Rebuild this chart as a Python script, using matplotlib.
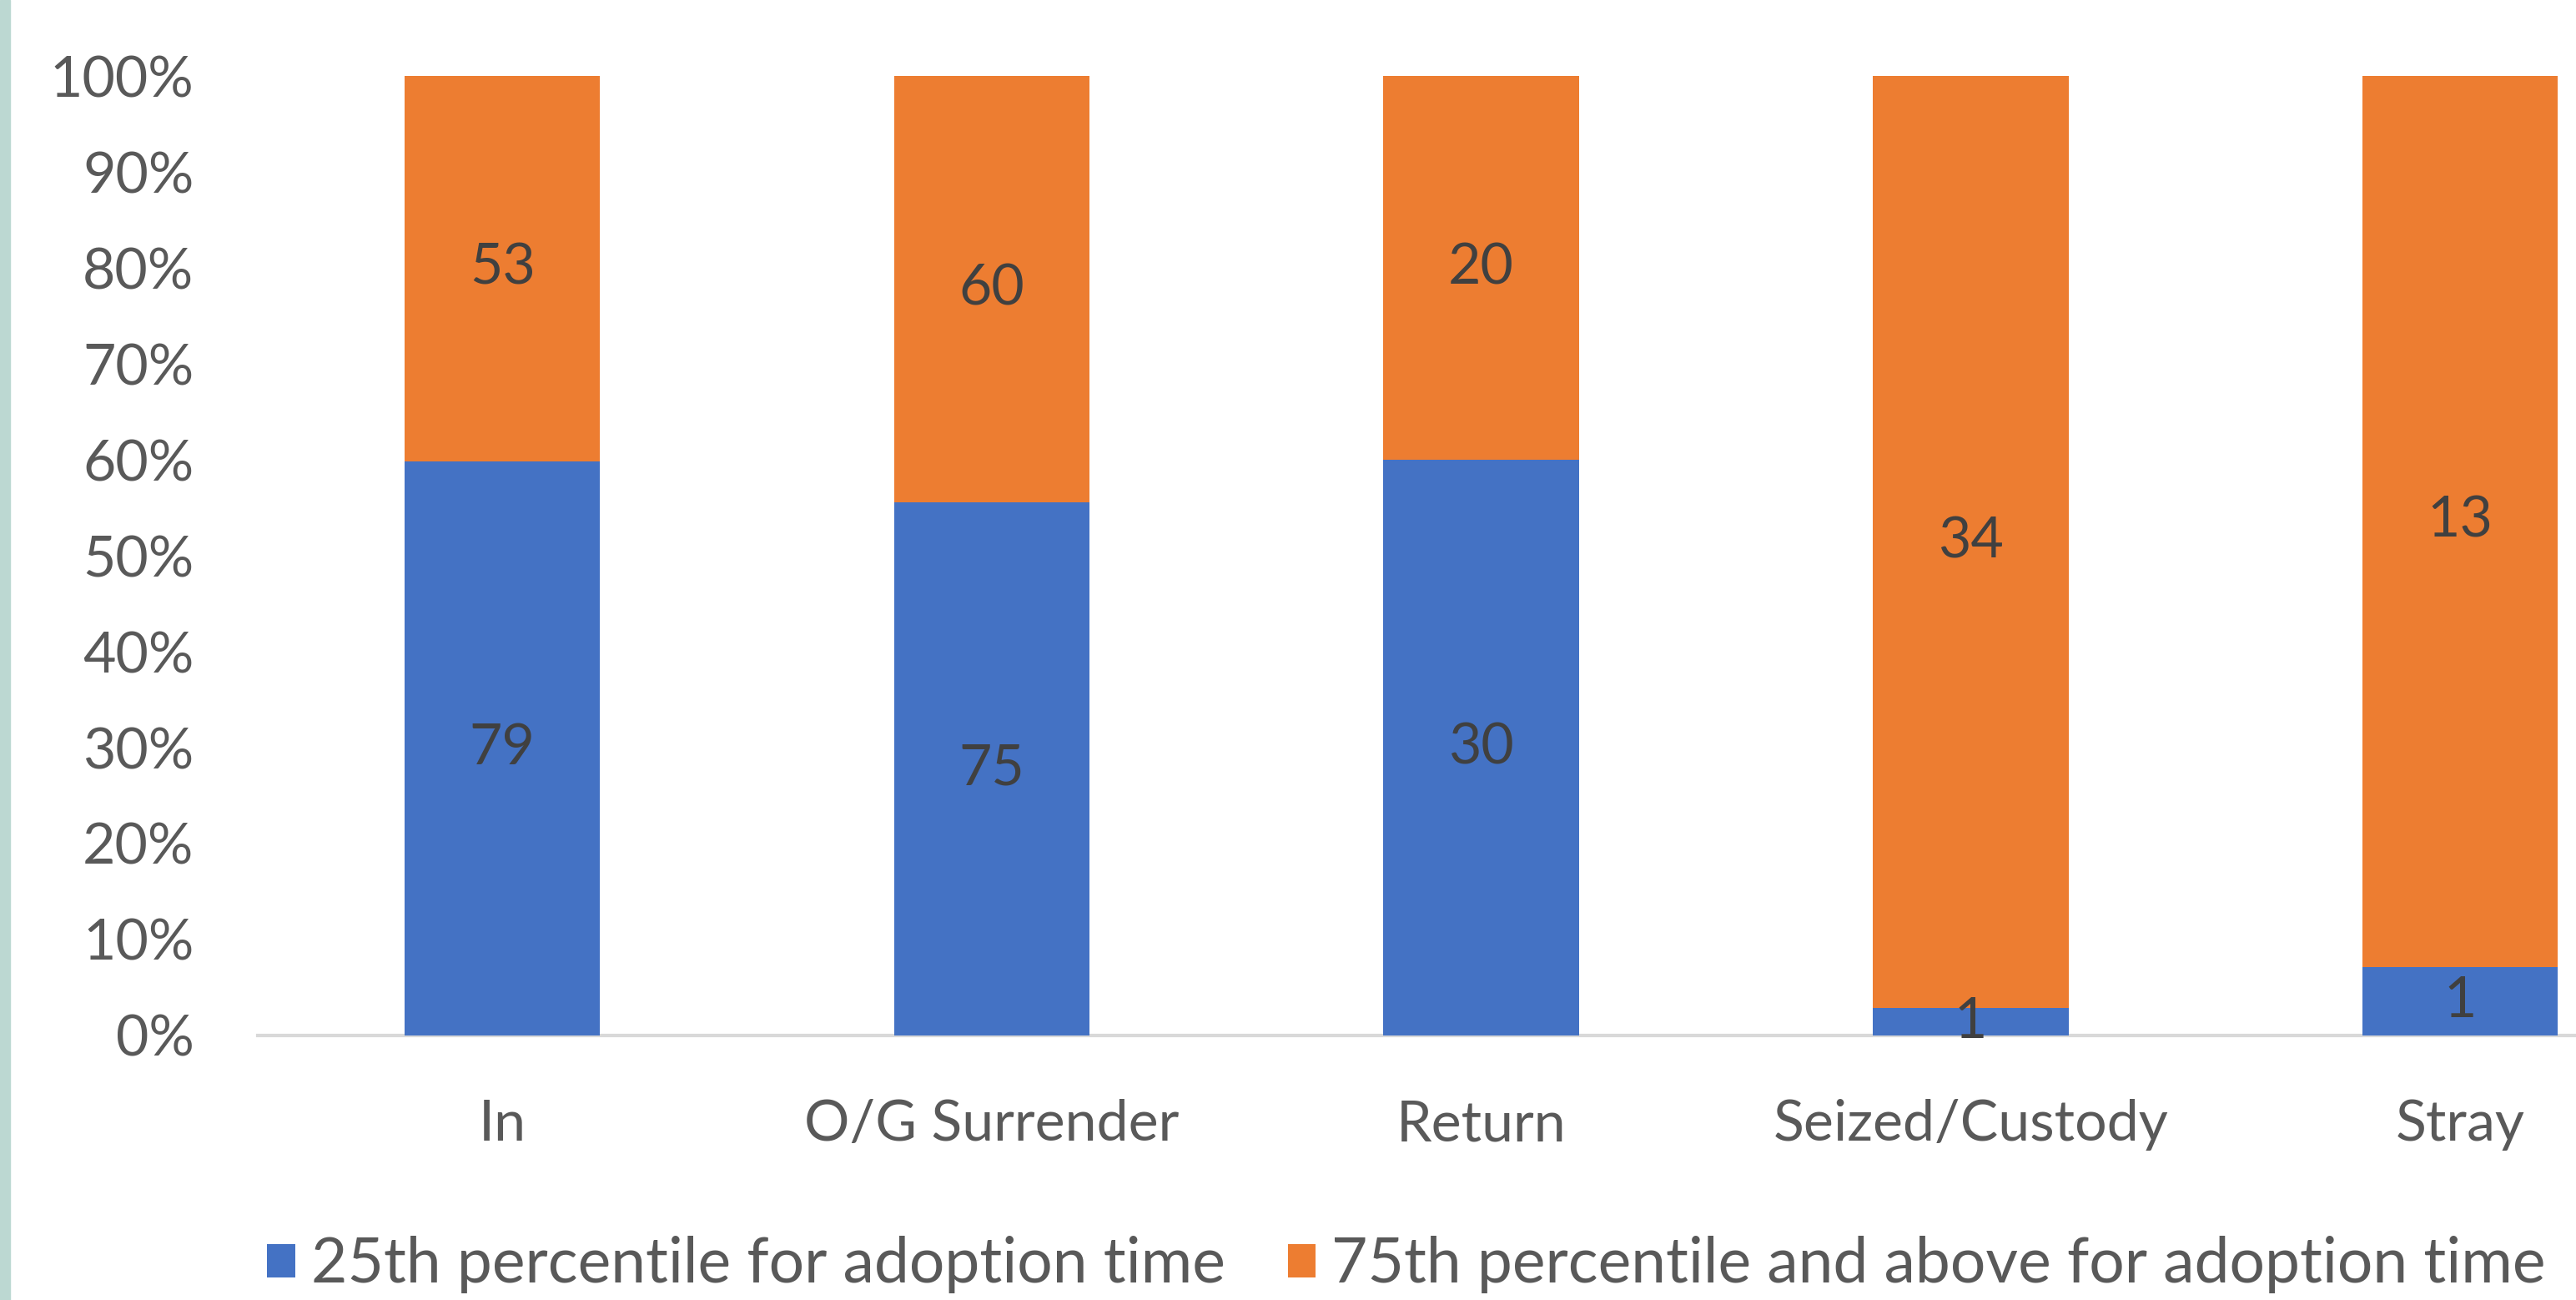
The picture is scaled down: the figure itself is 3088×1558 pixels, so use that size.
import numpy as np
import matplotlib.pyplot as plt
from matplotlib.patches import Rectangle

categories = ["In", "O/G Surrender", "Return", "Seized/Custody", "Stray"]
p25 = [79, 75, 30, 1, 1]
p75 = [53, 60, 20, 34, 13]
series_names = ["25th percentile for adoption time",
                "75th percentile and above for adoption time"]

BLUE = "#4472C4"
ORANGE = "#ED7D31"
TXT = "#595959"
LBL = "#404040"

plt.rcParams['font.family'] = ['Lato', 'DejaVu Sans']


def main():
    fig = plt.figure(figsize=(30.88, 15.58), dpi=100)
    ax = fig.add_axes([0.1, 0.2035, 0.9, 0.738])

    a = np.array(p25, dtype=float)
    b = np.array(p75, dtype=float)
    tot = a + b
    fa = a / tot
    fb = b / tot
    x = np.arange(len(categories))

    ax.bar(x, fa, width=0.4, color=BLUE, label=series_names[0], zorder=2)
    ax.bar(x, fb, width=0.4, bottom=fa, color=ORANGE, label=series_names[1], zorder=2)

    fs = 49
    for i in range(len(categories)):
        ax.text(x[i], fa[i] / 2, str(p25[i]), ha='center', va='center',
                fontsize=fs, color=LBL, zorder=3)
        ax.text(x[i], fa[i] + fb[i] / 2, str(p75[i]), ha='center', va='center',
                fontsize=fs, color=LBL, zorder=3)

    ax.set_xlim(-0.5, 4.237)
    ax.set_ylim(0, 1)
    ax.set_yticks(np.arange(0, 1.01, 0.1))
    ax.set_yticklabels([f"{int(round(v * 100))}%" for v in np.arange(0, 1.01, 0.1)])
    ax.set_xticks(x)
    ax.set_xticklabels(categories)
    ax.tick_params(axis='y', length=0, pad=55, labelsize=fs, labelcolor=TXT)
    ax.tick_params(axis='x', length=0, pad=55, labelsize=fs, labelcolor=TXT)

    for s in ['top', 'right', 'left']:
        ax.spines[s].set_visible(False)
    ax.spines['bottom'].set_color("#D9D9D9")
    ax.spines['bottom'].set_linewidth(3)
    ax.spines['bottom'].set_zorder(1)

    fig.legend(loc='center', bbox_to_anchor=(0.546, 0.027), ncol=2, frameon=False,
               fontsize=54, labelcolor=TXT, handlelength=0.45, handleheight=0.45,
               handletextpad=0.25, columnspacing=1.0)

    # light teal strip at the left edge
    fig.patches.append(Rectangle((0, 0), 0.004, 1, transform=fig.transFigure,
                                 color="#BCD8D2", zorder=0))

    plt.savefig("out.png", dpi=100)


if __name__ == '__main__':
    main()
